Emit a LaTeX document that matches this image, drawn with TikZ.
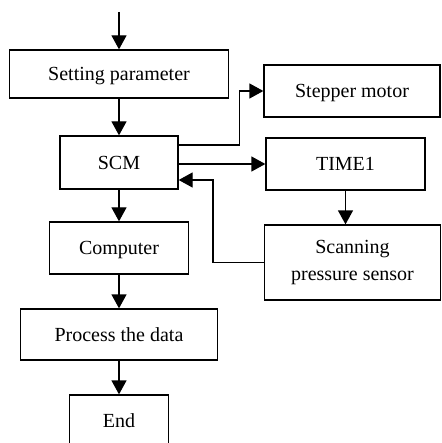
\documentclass[tikz,border=0pt]{standalone}
\usepackage{fontspec}
\setmainfont{Liberation Serif}
\usetikzlibrary{arrows.meta}
\tikzset{
  blk/.style={draw, line width=1.3pt, inner sep=0pt, align=center, text height=13.2pt, text depth=0pt},
  twoline/.style={draw, line width=1.3pt, inner sep=0pt, align=center},
  arr/.style={line width=1.3pt, -{Triangle[width=15pt,length=14pt]}}
}
\begin{document}
\begin{tikzpicture}[x=1pt,y=-1pt,font=\fontsize{20}{27}\selectfont]
\useasboundingbox (0,0) rectangle (441,443);
\coordinate (start) at (119,12);
\node[blk, minimum width=219pt, minimum height=48pt] (setp) at (119,74) {Setting parameter};
\node[blk, minimum width=118pt, minimum height=53pt] (scm) at (119,162.5) {SCM};
\node[blk, minimum width=139pt, minimum height=52pt] (comp) at (119,248) {Computer};
\node[blk, minimum width=197pt, minimum height=51pt] (proc) at (119,334.5) {Process the data};
\node[blk, minimum width=99pt, minimum height=52pt] (fin) at (119,421) {End};
\node[blk, minimum width=176pt, minimum height=52pt] (motor) at (352,91) {Stepper motor};
\node[blk, minimum width=159pt, minimum height=52pt] (timer) at (345.5,164) {TIME1};
\node[twoline, minimum width=176pt, minimum height=75pt] (sensor) at (352.5,262.5) {Scanning\\pressure sensor};
\draw [arr] (start) -- (setp.north);
\draw [arr] (setp) -- (scm);
\draw [arr] (scm) -- (comp);
\draw [arr] (comp) -- (proc);
\draw [arr] (proc) -- (fin);
\draw [arr] ([yshift=17.5pt]scm.east) -- ++(61,0) |- (motor.west);
\draw [arr] (scm.east |- timer.west) -- (timer.west);
\draw [arr] (timer.south) -- (timer.south |- sensor.north);
\draw [arr] (sensor.west) -- ++(-51,0) |- ([yshift=-17.5pt]scm.east);
\end{tikzpicture}
\end{document}
